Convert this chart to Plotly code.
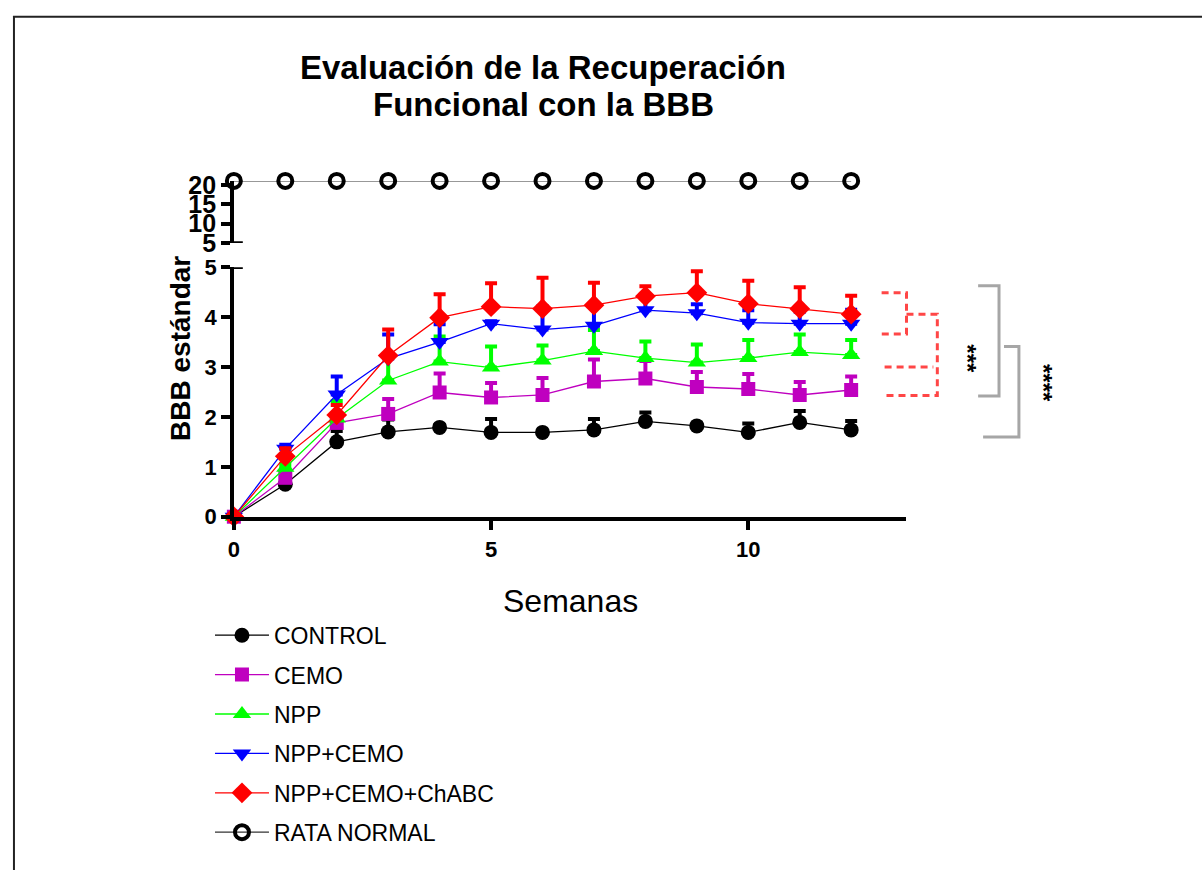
import plotly.graph_objects as go

W, H = 1202, 884

weeks = [0, 1, 2, 3, 4, 5, 6, 7, 8, 9, 10, 11, 12]

control = [0, 0.65, 1.50, 1.70, 1.79, 1.69, 1.69, 1.74, 1.91, 1.82, 1.69, 1.89, 1.74]
control_err = [0, 0.05, 0.22, 0.25, 0.05, 0.27, 0.03, 0.22, 0.18, 0.05, 0.18, 0.23, 0.18]

cemo = [0, 0.78, 1.88, 2.06, 2.49, 2.39, 2.44, 2.71, 2.77, 2.60, 2.56, 2.44, 2.54]
cemo_err = [0, 0.05, 0.15, 0.30, 0.38, 0.29, 0.34, 0.44, 0.35, 0.30, 0.30, 0.26, 0.27]

npp = [0, 0.98, 1.97, 2.73, 3.11, 2.99, 3.13, 3.32, 3.18, 3.09, 3.18, 3.30, 3.24]
npp_err = [0, 0.08, 0.35, 0.45, 0.50, 0.42, 0.30, 0.42, 0.33, 0.36, 0.36, 0.35, 0.30]

npp_cemo = [0, 1.36, 2.45, 3.17, 3.50, 3.87, 3.75, 3.83, 4.14, 4.08, 3.89, 3.87, 3.87]
npp_cemo_err = [0, 0.08, 0.36, 0.48, 0.36, 0.05, 0.47, 0.40, 0.30, 0.18, 0.25, 0.24, 0.28]

chabc = [0, 1.21, 2.04, 3.23, 3.99, 4.21, 4.17, 4.24, 4.42, 4.49, 4.27, 4.17, 4.06]
chabc_err = [0, 0.16, 0.20, 0.52, 0.47, 0.47, 0.62, 0.45, 0.20, 0.43, 0.46, 0.43, 0.37]

normal = [21, 21, 21, 21, 21, 21, 21, 21, 21, 21, 21, 21, 21]

names = ["CONTROL", "CEMO", "NPP", "NPP+CEMO", "NPP+CEMO+ChABC", "RATA NORMAL"]
colors = ["#000000", "#BF00BF", "#00FF00", "#0000FF", "#FF0000", "#000000"]
symbols = ["circle", "square", "triangle-up", "triangle-down", "diamond", "circle-open"]
msizes = [15, 14, 16, 16, 16, 14]

x_ticks = [0, 5, 10]
y_low_ticks = [0, 1, 2, 3, 4, 5]
y_up_ticks = [5, 10, 15, 20]

FONT = "Liberation Sans, Arial, sans-serif"

def px(x):
    return x / W

def py(y):
    return 1 - y / H

fig = go.Figure()

series = [control, cemo, npp, npp_cemo, chabc]
errors = [control_err, cemo_err, npp_err, npp_cemo_err, chabc_err]
for i in range(5):
    fig.add_trace(go.Scatter(
        x=weeks, y=series[i], name=names[i], mode="lines+markers",
        legendgroup=names[i],
        line=dict(color=colors[i], width=1.3),
        marker=dict(symbol=symbols[i], size=msizes[i], color=colors[i]),
        error_y=dict(type="data", symmetric=False, array=errors[i],
                     arrayminus=[0] * len(errors[i]), color=colors[i],
                     thickness=4, width=6),
        cliponaxis=False, xaxis="x", yaxis="y",
    ))

fig.add_trace(go.Scatter(
    x=weeks, y=normal, name=names[5], mode="lines+markers",
    legendgroup=names[5],
    line=dict(color="#333333", width=1.2),
    marker=dict(symbol="circle-open", size=14, color="#000000", line=dict(width=4, color="#000000")),
    cliponaxis=False, xaxis="x2", yaxis="y2",
))

x_dom = [px(229), px(905)]
x_rng = [0, (905 - 229) / 51.7]

fig.update_layout(
    width=W, height=H,
    margin=dict(l=0, r=0, t=0, b=0),
    paper_bgcolor="white", plot_bgcolor="white",
    showlegend=True,
    legend=dict(x=px(205), y=py(620), xanchor="left", yanchor="top",
                font=dict(family=FONT, size=23, color="black"),
                tracegroupgap=6.5, itemwidth=54, bgcolor="rgba(0,0,0,0)"),
    xaxis=dict(domain=x_dom, range=x_rng, anchor="y", showgrid=False, zeroline=False,
               showline=True, linecolor="black", linewidth=3.5,
               ticks="outside", ticklen=10, tickwidth=3.5, tickcolor="black",
               tickvals=x_ticks, ticktext=[str(v) for v in x_ticks],
               tickfont=dict(family=FONT, size=22, color="black", weight="bold")),
    yaxis=dict(domain=[py(520), py(263)], range=[0, 5], anchor="x", showgrid=False, zeroline=False,
               showline=True, linecolor="black", linewidth=3.5,
               ticks="outside", ticklen=9, tickwidth=3.5, tickcolor="black",
               tickvals=y_low_ticks, ticktext=[str(v) for v in y_low_ticks],
               tickfont=dict(family=FONT, size=22, color="black", weight="bold")),
    xaxis2=dict(domain=x_dom, range=x_rng, anchor="y2", visible=False),
    yaxis2=dict(domain=[py(238), py(174)], range=[5, 21], anchor="x2", showgrid=False, zeroline=False,
                showline=True, linecolor="black", linewidth=3.5,
                ticks="outside", ticklen=9, tickwidth=3.5, tickcolor="black",
                tickvals=y_up_ticks, ticktext=[str(v) for v in y_up_ticks],
                tickfont=dict(family=FONT, size=25, color="black", weight="bold")),
)

shapes = []
# axis break caps
shapes.append(dict(type="line", xref="paper", yref="y", x0=px(221), x1=px(238), y0=5, y1=5,
                   line=dict(color="black", width=3.5)))
shapes.append(dict(type="line", xref="paper", yref="y2", x0=px(221), x1=px(238), y0=5, y1=5,
                   line=dict(color="black", width=3.5)))
# frame
shapes.append(dict(type="line", xref="paper", yref="paper", x0=px(8), x1=px(8), y0=0, y1=py(4),
                   line=dict(color="#222222", width=2)))
shapes.append(dict(type="line", xref="paper", yref="paper", x0=px(7), x1=1, y0=py(5), y1=py(5),
                   line=dict(color="#222222", width=2)))

red = "rgb(255,70,70)"
dash = "7px,5px"

# red dashed brackets (data y values)
shapes.append(dict(type="path", xref="paper", yref="y",
                   path=f"M {px(880)},4.49 L {px(905)},4.49 L {px(905)},3.66 L {px(880)},3.66",
                   line=dict(color=red, width=3, dash=dash)))
shapes.append(dict(type="path", xref="paper", yref="y",
                   path=f"M {px(905)},4.06 L {px(936)},4.06 L {px(936)},2.43 L {px(883)},2.43",
                   line=dict(color=red, width=3, dash=dash)))
shapes.append(dict(type="path", xref="paper", yref="y",
                   path=f"M {px(883)},3.0 L {px(932)},3.0",
                   line=dict(color=red, width=3, dash=dash)))
# gray brackets
gray = "#A6A6A6"
shapes.append(dict(type="path", xref="paper", yref="y",
                   path=f"M {px(977)},4.63 L {px(998)},4.63 L {px(998)},2.42 L {px(977)},2.42",
                   line=dict(color=gray, width=3)))
shapes.append(dict(type="path", xref="paper", yref="y",
                   path=f"M {px(1003)},3.41 L {px(1018)},3.41 L {px(1018)},1.60 L {px(982)},1.60",
                   line=dict(color=gray, width=3)))
fig.update_layout(shapes=shapes)

ann = []
ann.append(dict(text="Evaluación de la Recuperación", x=px(540), y=py(57), xref="paper", yref="paper",
                showarrow=False, xanchor="center", yanchor="middle",
                font=dict(family=FONT, size=33, color="black", weight="bold")))
ann.append(dict(text="Funcional con la BBB", x=px(540), y=py(95), xref="paper", yref="paper",
                showarrow=False, xanchor="center", yanchor="middle",
                font=dict(family=FONT, size=33, color="black", weight="bold")))
ann.append(dict(text="BBB estándar", x=px(176), y=py(347), xref="paper", yref="paper",
                showarrow=False, xanchor="center", yanchor="middle", textangle=-90,
                font=dict(family=FONT, size=28, color="black", weight="bold")))
ann.append(dict(text="Semanas", x=px(567), y=py(607), xref="paper", yref="paper",
                showarrow=False, xanchor="center", yanchor="middle",
                font=dict(family=FONT, size=32, color="black")))
ann.append(dict(text="***", x=px(966), y=py(357), xref="paper", yref="paper",
                showarrow=False, xanchor="center", yanchor="middle", textangle=90,
                font=dict(family=FONT, size=24, color="black", weight="bold")))
ann.append(dict(text="****", x=px(1042), y=py(382), xref="paper", yref="paper",
                showarrow=False, xanchor="center", yanchor="middle", textangle=90,
                font=dict(family=FONT, size=24, color="black", weight="bold")))
fig.update_layout(annotations=ann)

fig.write_html("out.html")
